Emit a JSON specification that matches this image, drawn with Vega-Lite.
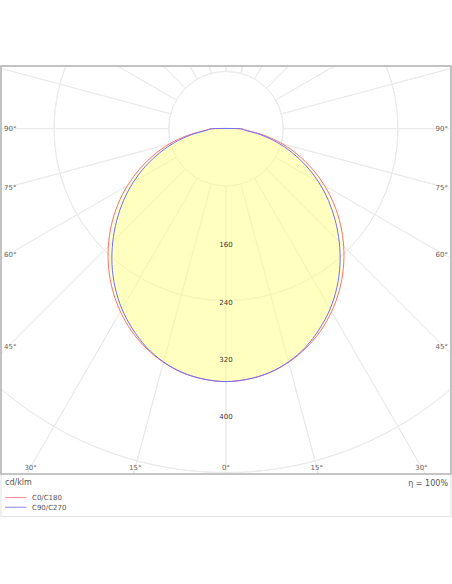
{
  "$schema": "https://vega.github.io/schema/vega-lite/v6.json",
  "width": 450,
  "height": 408,
  "padding": {"left": 1, "top": 66, "right": 1, "bottom": 110},
  "autosize": {"type": "none"},
  "background": "white",
  "config": {"view": {"stroke": null}, "text": {"font": "DejaVu Sans"}},
  "datasets": {
    "curves": [
      {"series": "C0/C180", "gamma": -90, "cdklm": 18},
      {"series": "C0/C180", "gamma": -85, "cdklm": 30},
      {"series": "C0/C180", "gamma": -80, "cdklm": 55},
      {"series": "C0/C180", "gamma": -75, "cdklm": 81},
      {"series": "C0/C180", "gamma": -70, "cdklm": 107},
      {"series": "C0/C180", "gamma": -65, "cdklm": 133},
      {"series": "C0/C180", "gamma": -60, "cdklm": 158.8},
      {"series": "C0/C180", "gamma": -55, "cdklm": 184.1},
      {"series": "C0/C180", "gamma": -50, "cdklm": 208.7},
      {"series": "C0/C180", "gamma": -45, "cdklm": 232.3},
      {"series": "C0/C180", "gamma": -40, "cdklm": 254.7},
      {"series": "C0/C180", "gamma": -35, "cdklm": 275.7},
      {"series": "C0/C180", "gamma": -30, "cdklm": 294.8},
      {"series": "C0/C180", "gamma": -25, "cdklm": 311.7},
      {"series": "C0/C180", "gamma": -20, "cdklm": 326},
      {"series": "C0/C180", "gamma": -15, "cdklm": 337.6},
      {"series": "C0/C180", "gamma": -10, "cdklm": 346},
      {"series": "C0/C180", "gamma": -5, "cdklm": 351},
      {"series": "C0/C180", "gamma": 0, "cdklm": 353},
      {"series": "C0/C180", "gamma": 5, "cdklm": 351},
      {"series": "C0/C180", "gamma": 10, "cdklm": 346},
      {"series": "C0/C180", "gamma": 15, "cdklm": 337.6},
      {"series": "C0/C180", "gamma": 20, "cdklm": 326},
      {"series": "C0/C180", "gamma": 25, "cdklm": 311.7},
      {"series": "C0/C180", "gamma": 30, "cdklm": 294.8},
      {"series": "C0/C180", "gamma": 35, "cdklm": 275.7},
      {"series": "C0/C180", "gamma": 40, "cdklm": 254.7},
      {"series": "C0/C180", "gamma": 45, "cdklm": 232.3},
      {"series": "C0/C180", "gamma": 50, "cdklm": 208.7},
      {"series": "C0/C180", "gamma": 55, "cdklm": 184.1},
      {"series": "C0/C180", "gamma": 60, "cdklm": 158.8},
      {"series": "C0/C180", "gamma": 65, "cdklm": 133},
      {"series": "C0/C180", "gamma": 70, "cdklm": 107},
      {"series": "C0/C180", "gamma": 75, "cdklm": 81},
      {"series": "C0/C180", "gamma": 80, "cdklm": 55},
      {"series": "C0/C180", "gamma": 85, "cdklm": 30},
      {"series": "C0/C180", "gamma": 90, "cdklm": 18},
      {"series": "C90/C270", "gamma": -90, "cdklm": 18},
      {"series": "C90/C270", "gamma": -85, "cdklm": 27.5},
      {"series": "C90/C270", "gamma": -80, "cdklm": 49.5},
      {"series": "C90/C270", "gamma": -75, "cdklm": 74},
      {"series": "C90/C270", "gamma": -70, "cdklm": 98.7},
      {"series": "C90/C270", "gamma": -65, "cdklm": 124},
      {"series": "C90/C270", "gamma": -60, "cdklm": 149.5},
      {"series": "C90/C270", "gamma": -55, "cdklm": 174.5},
      {"series": "C90/C270", "gamma": -50, "cdklm": 199},
      {"series": "C90/C270", "gamma": -45, "cdklm": 223.5},
      {"series": "C90/C270", "gamma": -40, "cdklm": 247.5},
      {"series": "C90/C270", "gamma": -35, "cdklm": 270},
      {"series": "C90/C270", "gamma": -30, "cdklm": 290.5},
      {"series": "C90/C270", "gamma": -25, "cdklm": 308.5},
      {"series": "C90/C270", "gamma": -20, "cdklm": 324.5},
      {"series": "C90/C270", "gamma": -15, "cdklm": 337},
      {"series": "C90/C270", "gamma": -10, "cdklm": 346},
      {"series": "C90/C270", "gamma": -5, "cdklm": 351},
      {"series": "C90/C270", "gamma": 0, "cdklm": 353},
      {"series": "C90/C270", "gamma": 5, "cdklm": 351},
      {"series": "C90/C270", "gamma": 10, "cdklm": 346},
      {"series": "C90/C270", "gamma": 15, "cdklm": 337},
      {"series": "C90/C270", "gamma": 20, "cdklm": 324.5},
      {"series": "C90/C270", "gamma": 25, "cdklm": 308.5},
      {"series": "C90/C270", "gamma": 30, "cdklm": 290.5},
      {"series": "C90/C270", "gamma": 35, "cdklm": 270},
      {"series": "C90/C270", "gamma": 40, "cdklm": 247.5},
      {"series": "C90/C270", "gamma": 45, "cdklm": 223.5},
      {"series": "C90/C270", "gamma": 50, "cdklm": 199},
      {"series": "C90/C270", "gamma": 55, "cdklm": 174.5},
      {"series": "C90/C270", "gamma": 60, "cdklm": 149.5},
      {"series": "C90/C270", "gamma": 65, "cdklm": 124},
      {"series": "C90/C270", "gamma": 70, "cdklm": 98.7},
      {"series": "C90/C270", "gamma": 75, "cdklm": 74},
      {"series": "C90/C270", "gamma": 80, "cdklm": 49.5},
      {"series": "C90/C270", "gamma": 85, "cdklm": 27.5},
      {"series": "C90/C270", "gamma": 90, "cdklm": 18}
    ],
    "rings": [{"r": 80}, {"r": 160}, {"r": 240}, {"r": 320}, {"r": 400}, {"r": 480}, {"r": 560}],
    "radials": [
      {"a": 0}, {"a": 15}, {"a": 30}, {"a": 45}, {"a": 60}, {"a": 75}, {"a": 90}, {"a": 105},
      {"a": 120}, {"a": 135}, {"a": 150}, {"a": 165}, {"a": 180}, {"a": 195}, {"a": 210}, {"a": 225},
      {"a": 240}, {"a": 255}, {"a": 270}, {"a": 285}, {"a": 300}, {"a": 315}, {"a": 330}, {"a": 345}
    ],
    "ringLabels": [{"v": 160}, {"v": 240}, {"v": 320}, {"v": 400}],
    "angleLabels": [
      {"label": "90°", "side": "left", "lx": -309.8, "ly": -1},
      {"label": "75°", "side": "left", "lx": -309.8, "ly": -82.3},
      {"label": "60°", "side": "left", "lx": -309.8, "ly": -176.3},
      {"label": "45°", "side": "left", "lx": -309.8, "ly": -304.7},
      {"label": "90°", "side": "right", "lx": 309.8, "ly": -1},
      {"label": "75°", "side": "right", "lx": 309.8, "ly": -82.3},
      {"label": "60°", "side": "right", "lx": 309.8, "ly": -176.3},
      {"label": "45°", "side": "right", "lx": 309.8, "ly": -304.7},
      {"label": "30°", "side": "bottom", "lx": -272.7, "ly": -473.1},
      {"label": "15°", "side": "bottom", "lx": -126.7, "ly": -473.1},
      {"label": "0°", "side": "bottom", "lx": 0, "ly": -473.1},
      {"label": "15°", "side": "bottom", "lx": 126.7, "ly": -473.1},
      {"label": "30°", "side": "bottom", "lx": 272.7, "ly": -473.1}
    ]
  },
  "layer": [
    {
      "data": {"values": [{}]},
      "mark": {"type": "rect", "filled": false, "stroke": "#e2e2e2", "strokeWidth": 1, "clip": false},
      "encoding": {
        "x": {"datum": -314, "type": "quantitative", "scale": {"domain": [-314, 314], "nice": false, "zero": false}, "axis": null},
        "x2": {"datum": 314},
        "y": {"datum": 87.5, "type": "quantitative", "scale": {"domain": [-482, 87.5], "nice": false, "zero": false}, "axis": null},
        "y2": {"datum": -541.5}
      }
    },
    {
      "data": {"name": "rings"},
      "mark": {"type": "arc", "filled": false, "stroke": "#ebebeb", "strokeWidth": 1, "theta": 0, "theta2": 6.2832, "clip": true},
      "encoding": {
        "x": {"datum": 0, "type": "quantitative", "scale": {"domain": [-314, 314], "nice": false, "zero": false}, "axis": null},
        "y": {"datum": 0, "type": "quantitative", "scale": {"domain": [-482, 87.5], "nice": false, "zero": false}, "axis": null},
        "radius": {"field": "r", "type": "quantitative", "scale": {"type": "linear", "domain": [0, 400], "range": [0, 286.62], "zero": true, "nice": false}}
      }
    },
    {
      "data": {"name": "radials"},
      "mark": {"type": "arc", "filled": false, "stroke": "#ebebeb", "strokeWidth": 1, "clip": true},
      "encoding": {
        "x": {"datum": 0, "type": "quantitative", "scale": {"domain": [-314, 314], "nice": false, "zero": false}, "axis": null},
        "y": {"datum": 0, "type": "quantitative", "scale": {"domain": [-482, 87.5], "nice": false, "zero": false}, "axis": null},
        "theta": {"field": "a", "type": "quantitative", "stack": false, "scale": {"domain": [0, 360], "range": [0, 6.283185307]}},
        "theta2": {"field": "a"},
        "radius": {"datum": 800, "type": "quantitative", "scale": {"type": "linear", "domain": [0, 400], "range": [0, 286.62], "zero": true, "nice": false}},
        "radius2": {"datum": 80}
      }
    },
    {
      "data": {"name": "curves"},
      "transform": [
        {"calculate": "datum.cdklm * sin(datum.gamma * PI / 180)", "as": "px"},
        {"calculate": "-datum.cdklm * cos(datum.gamma * PI / 180)", "as": "py"}
      ],
      "mark": {"type": "line", "interpolate": "cardinal-closed", "fill": "#ffff80", "fillOpacity": 0.29, "stroke": "transparent", "strokeWidth": 0, "clip": true},
      "encoding": {
        "x": {"field": "px", "type": "quantitative", "scale": {"domain": [-314, 314], "nice": false, "zero": false}, "axis": null},
        "y": {"field": "py", "type": "quantitative", "scale": {"domain": [-482, 87.5], "nice": false, "zero": false}, "axis": null},
        "detail": {"field": "series"},
        "order": {"field": "gamma", "type": "quantitative"}
      }
    },
    {
      "data": {"name": "curves"},
      "transform": [
        {"calculate": "datum.cdklm * sin(datum.gamma * PI / 180)", "as": "px"},
        {"calculate": "-datum.cdklm * cos(datum.gamma * PI / 180)", "as": "py"}
      ],
      "mark": {"type": "line", "interpolate": "cardinal-closed", "strokeWidth": 1, "clip": true},
      "encoding": {
        "x": {"field": "px", "type": "quantitative", "scale": {"domain": [-314, 314], "nice": false, "zero": false}, "axis": null},
        "y": {"field": "py", "type": "quantitative", "scale": {"domain": [-482, 87.5], "nice": false, "zero": false}, "axis": null},
        "stroke": {"field": "series", "type": "nominal", "scale": {"domain": ["C0/C180", "C90/C270"], "range": ["#ff7070", "#7070ff"]}, "legend": null},
        "order": {"field": "gamma", "type": "quantitative"}
      }
    },
    {
      "data": {"name": "ringLabels"},
      "transform": [{"calculate": "-datum.v", "as": "vy"}],
      "mark": {"type": "text", "fontSize": 7, "color": "#3a3a3a", "align": "center", "baseline": "middle", "dy": 2},
      "encoding": {
        "x": {"datum": 0, "type": "quantitative", "scale": {"domain": [-314, 314], "nice": false, "zero": false}, "axis": null},
        "y": {"field": "vy", "type": "quantitative", "scale": {"domain": [-482, 87.5], "nice": false, "zero": false}, "axis": null},
        "text": {"field": "v", "type": "quantitative", "format": "d"}
      }
    },
    {
      "data": {"name": "angleLabels"},
      "transform": [{"filter": "datum.side === 'left'"}],
      "mark": {"type": "text", "fontSize": 7, "color": "#666666", "align": "left", "baseline": "middle"},
      "encoding": {
        "x": {"field": "lx", "type": "quantitative", "scale": {"domain": [-314, 314], "nice": false, "zero": false}, "axis": null},
        "y": {"field": "ly", "type": "quantitative", "scale": {"domain": [-482, 87.5], "nice": false, "zero": false}, "axis": null},
        "text": {"field": "label"}
      }
    },
    {
      "data": {"name": "angleLabels"},
      "transform": [{"filter": "datum.side === 'right'"}],
      "mark": {"type": "text", "fontSize": 7, "color": "#666666", "align": "right", "baseline": "middle"},
      "encoding": {
        "x": {"field": "lx", "type": "quantitative", "scale": {"domain": [-314, 314], "nice": false, "zero": false}, "axis": null},
        "y": {"field": "ly", "type": "quantitative", "scale": {"domain": [-482, 87.5], "nice": false, "zero": false}, "axis": null},
        "text": {"field": "label"}
      }
    },
    {
      "data": {"name": "angleLabels"},
      "transform": [{"filter": "datum.side === 'bottom'"}],
      "mark": {"type": "text", "fontSize": 7, "color": "#666666", "align": "center", "baseline": "middle"},
      "encoding": {
        "x": {"field": "lx", "type": "quantitative", "scale": {"domain": [-314, 314], "nice": false, "zero": false}, "axis": null},
        "y": {"field": "ly", "type": "quantitative", "scale": {"domain": [-482, 87.5], "nice": false, "zero": false}, "axis": null},
        "text": {"field": "label"}
      }
    },
    {
      "data": {"values": [{}]},
      "mark": {"type": "rect", "filled": false, "stroke": "#b2b2b2", "strokeWidth": 1.5, "clip": false},
      "encoding": {
        "x": {"datum": -314, "type": "quantitative", "scale": {"domain": [-314, 314], "nice": false, "zero": false}, "axis": null},
        "x2": {"datum": 314},
        "y": {"datum": 87.5, "type": "quantitative", "scale": {"domain": [-482, 87.5], "nice": false, "zero": false}, "axis": null},
        "y2": {"datum": -482}
      }
    },
    {
      "data": {"values": [{}]},
      "mark": {"type": "text", "text": "cd/klm", "fontSize": 8, "color": "#555555", "align": "left", "baseline": "middle", "clip": false},
      "encoding": {
        "x": {"datum": -308.4, "type": "quantitative", "scale": {"domain": [-314, 314], "nice": false, "zero": false}, "axis": null},
        "y": {"datum": -494.9, "type": "quantitative", "scale": {"domain": [-482, 87.5], "nice": false, "zero": false}, "axis": null}
      }
    },
    {
      "data": {"values": [{}]},
      "mark": {"type": "text", "text": "η = 100%", "fontSize": 8, "color": "#555555", "align": "right", "baseline": "middle", "clip": false},
      "encoding": {
        "x": {"datum": 309.8, "type": "quantitative", "scale": {"domain": [-314, 314], "nice": false, "zero": false}, "axis": null},
        "y": {"datum": -495.5, "type": "quantitative", "scale": {"domain": [-482, 87.5], "nice": false, "zero": false}, "axis": null}
      }
    },
    {
      "data": {"values": [{}]},
      "mark": {"type": "rule", "stroke": "#ff8a8a", "strokeWidth": 1, "clip": false},
      "encoding": {
        "x": {"datum": -308.4, "type": "quantitative", "scale": {"domain": [-314, 314], "nice": false, "zero": false}, "axis": null},
        "x2": {"datum": -278.3},
        "y": {"datum": -515.0, "type": "quantitative", "scale": {"domain": [-482, 87.5], "nice": false, "zero": false}, "axis": null}
      }
    },
    {
      "data": {"values": [{}]},
      "mark": {"type": "rule", "stroke": "#8a8aff", "strokeWidth": 1, "clip": false},
      "encoding": {
        "x": {"datum": -308.4, "type": "quantitative", "scale": {"domain": [-314, 314], "nice": false, "zero": false}, "axis": null},
        "x2": {"datum": -278.3},
        "y": {"datum": -528.4, "type": "quantitative", "scale": {"domain": [-482, 87.5], "nice": false, "zero": false}, "axis": null}
      }
    },
    {
      "data": {"values": [{}]},
      "mark": {"type": "text", "text": "C0/C180", "fontSize": 7, "color": "#555555", "align": "left", "baseline": "middle", "clip": false},
      "encoding": {
        "x": {"datum": -270.7, "type": "quantitative", "scale": {"domain": [-314, 314], "nice": false, "zero": false}, "axis": null},
        "y": {"datum": -515.7, "type": "quantitative", "scale": {"domain": [-482, 87.5], "nice": false, "zero": false}, "axis": null}
      }
    },
    {
      "data": {"values": [{}]},
      "mark": {"type": "text", "text": "C90/C270", "fontSize": 7, "color": "#555555", "align": "left", "baseline": "middle", "clip": false},
      "encoding": {
        "x": {"datum": -270.7, "type": "quantitative", "scale": {"domain": [-314, 314], "nice": false, "zero": false}, "axis": null},
        "y": {"datum": -528.8, "type": "quantitative", "scale": {"domain": [-482, 87.5], "nice": false, "zero": false}, "axis": null}
      }
    }
  ]
}
